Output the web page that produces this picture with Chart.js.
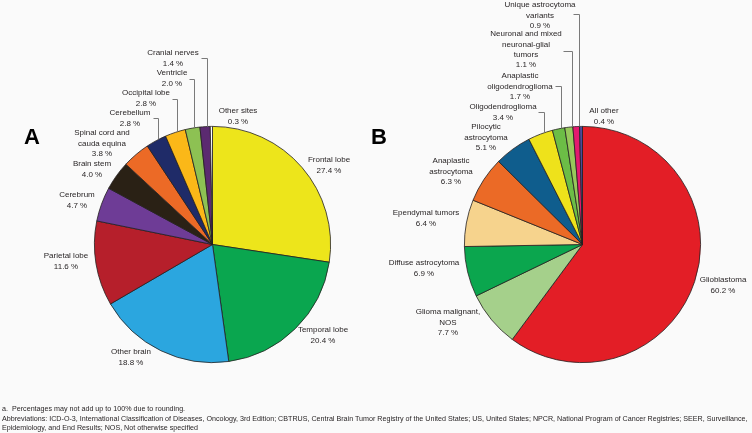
<!DOCTYPE html>
<html>
<head>
<meta charset="utf-8">
<script src="https://cdn.jsdelivr.net/npm/chart.js@4.4.1/dist/chart.umd.min.js"></script>
<style>
  body { margin: 0; background: #fafafa; }
  #wrap { position: relative; width: 752px; height: 433px; overflow: hidden; }
  canvas { position: absolute; top: 0; }
  #note {
    position: absolute; left: 2px; top: 405px;
    font: 7.15px "Liberation Sans", Arial, sans-serif; line-height: 9.5px;
    color: #231f20; white-space: nowrap;
  }
  #note span { display: inline-block; width: 10px; }
</style>
</head>
<body>
<div id="wrap">
  <canvas id="siteChart" width="376" height="433" style="left:0"></canvas>
  <canvas id="histChart" width="392" height="433" style="left:360px"></canvas>
  <div id="note">
    <span>a.</span>Percentages may not add up to 100% due to rounding.<br>
    Abbreviations: ICD-O-3, International Classification of Diseases, Oncology, 3rd Edition; CBTRUS, Central Brain Tumor Registry of the United States; US, United States; NPCR, National Program of Cancer Registries; SEER, Surveillance,<br>
    Epidemiology, and End Results; NOS, Not otherwise specified
  </div>
</div>
<script>
// A: tumor site
const siteLabels = ['Frontal lobe', 'Temporal lobe', 'Other brain', 'Parietal lobe', 'Cerebrum', 'Brain stem',
  'Spinal cord and\ncauda equina', 'Cerebellum', 'Occipital lobe', 'Ventricle', 'Cranial nerves', 'Other sites'];
const siteValues = [27.4, 20.4, 18.8, 11.6, 4.7, 4.0, 3.8, 2.8, 2.8, 2.0, 1.4, 0.3];
const siteColors = ['#ede51b', '#0aa64f', '#2ba6df', '#b61f2b', '#6e3c96', '#2a2115',
  '#ec6a26', '#1f2b68', '#fbb818', '#8dc153', '#5b2a70', '#ffffff'];

// B: histology
const histLabels = ['Glioblastoma', 'Glioma malignant,\nNOS', 'Diffuse astrocytoma', 'Ependymal tumors',
  'Anaplastic\nastrocytoma', 'Pilocytic\nastrocytoma', 'Oligodendroglioma', 'Anaplastic\noligodendroglioma',
  'Neuronal and mixed\nneuronal-glial\ntumors', 'Unique astrocytoma\nvariants', 'All other'];
const histValues = [60.2, 7.7, 6.9, 6.4, 6.3, 5.1, 3.4, 1.7, 1.1, 0.9, 0.4];
const histColors = ['#e31e26', '#a5d08b', '#0ba64e', '#f6d38d', '#eb6a26', '#0f5d8d',
  '#eee21b', '#6cbd46', '#97c85b', '#e3196f', '#4b4a9b'];

// label placement in page px: [x, y of first line, leader [lineX, tickY, tickLen]]
const siteLabelPos = [
  [329, 160], [323, 330], [131, 352], [66, 256], [77, 195], [92, 164],
  [102, 133], [130, 113, [158, 118, 5]], [146, 93, [177, 99, 5]],
  [172, 73, [194, 79, 5]], [173, 53, [207, 58, 6]], [238, 111]
];
const histLabelPos = [
  [723, 280], [448, 312], [424, 263], [426, 213], [451, 161], [486, 127],
  [503, 107, [544, 112, 6]], [520, 76, [561, 86, 6]],
  [526, 34, [572, 51, 9]], [540, 5, [579, 14, 6]], [604, 111]
];

const sliceLabels = {
  id: 'sliceLabels',
  afterDatasetsDraw(chart, args, opts) {
    const ctx = chart.ctx;
    const meta = chart.getDatasetMeta(0);
    const values = chart.data.datasets[0].data;
    const ox = opts.offsetX;
    ctx.save();
    ctx.font = '8px "Liberation Sans", Arial, sans-serif';
    ctx.fillStyle = '#231f20';
    ctx.strokeStyle = '#7a7a7a';
    ctx.lineWidth = 1;
    ctx.textAlign = 'center';
    ctx.textBaseline = 'middle';
    chart.data.labels.forEach((lab, i) => {
      const p = opts.pos[i];
      const lines = lab.split('\n').concat(values[i].toFixed(1) + ' %');
      lines.forEach((t, k) => ctx.fillText(t, p[0] - ox, p[1] + k * 10.4));
      if (p[2]) {
        const arc = meta.data[i];
        const lx = p[2][0] - ox + 0.5;
        const dx = lx - arc.x;
        const ey = arc.y - Math.sqrt(arc.outerRadius * arc.outerRadius - dx * dx);
        ctx.beginPath();
        ctx.moveTo(lx - p[2][2], p[2][1] + 0.5);
        ctx.lineTo(lx, p[2][1] + 0.5);
        ctx.lineTo(lx, ey);
        ctx.stroke();
      }
    });
    ctx.font = 'bold 22px "Liberation Sans", Arial, sans-serif';
    ctx.fillStyle = '#000';
    ctx.fillText(opts.letter, opts.letterX - ox, 138);
    ctx.restore();
  }
};

function pieConfig(labels, values, colors, pos, letter, letterX, offsetX, padding) {
  return {
    type: 'pie',
    data: {
      labels: labels,
      datasets: [{
        data: values,
        backgroundColor: colors,
        borderColor: '#231f20',
        borderWidth: 0.8
      }]
    },
    options: {
      responsive: false,
      animation: false,
      layout: { padding: padding },
      plugins: {
        legend: { display: false },
        tooltip: { enabled: false },
        sliceLabels: { pos: pos, letter: letter, letterX: letterX, offsetX: offsetX }
      }
    },
    plugins: [sliceLabels]
  };
}

new Chart(document.getElementById('siteChart'),
  pieConfig(siteLabels, siteValues, siteColors, siteLabelPos, 'A', 32, 0,
    { left: 94, right: 45, top: 126, bottom: 70 }));

new Chart(document.getElementById('histChart'),
  pieConfig(histLabels, histValues, histColors, histLabelPos, 'B', 379, 360,
    { left: 104, right: 51, top: 126, bottom: 70 }));
</script>
</body>
</html>
